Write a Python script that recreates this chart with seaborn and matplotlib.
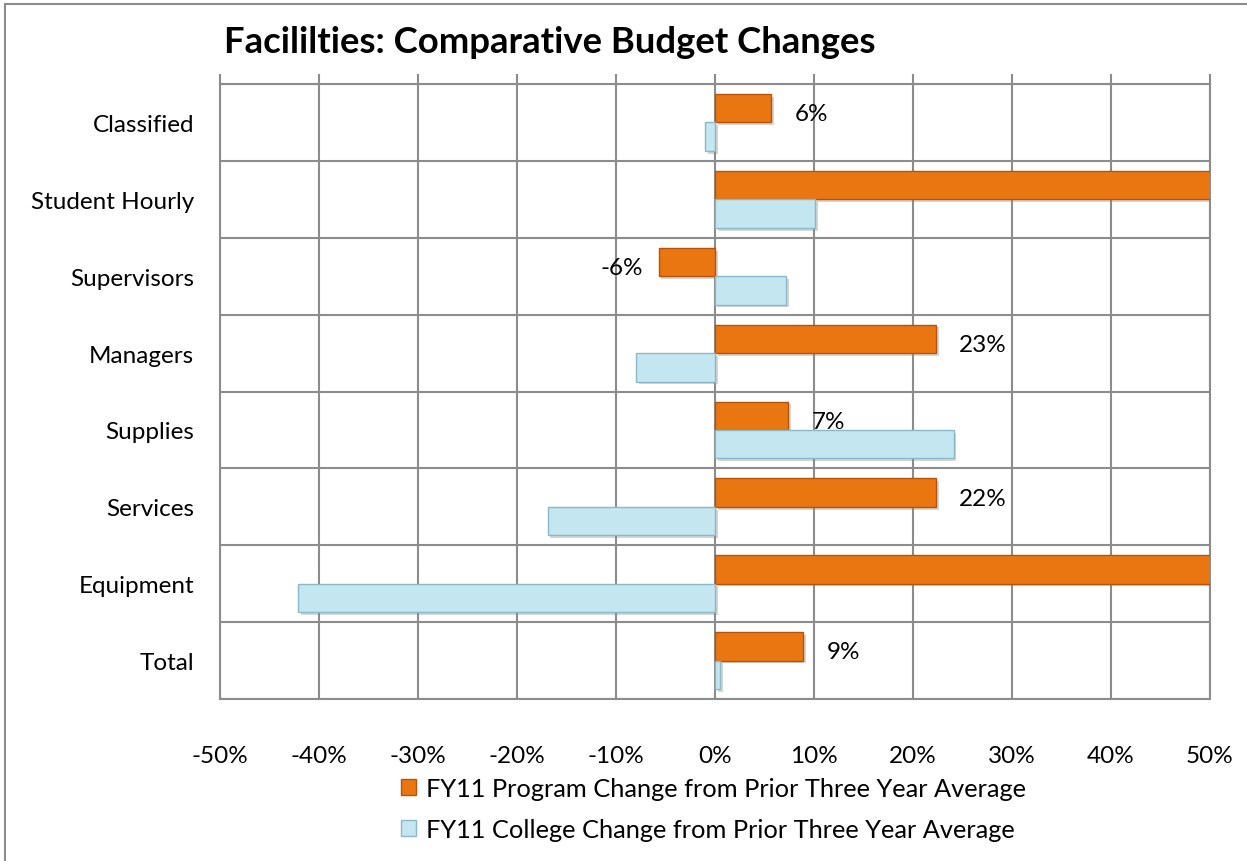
import matplotlib
matplotlib.use("Agg")
import matplotlib.pyplot as plt
import matplotlib.patheffects as pe
from matplotlib.patches import Patch
from matplotlib.lines import Line2D
from matplotlib.ticker import MultipleLocator, FuncFormatter
import seaborn as sns
import pandas as pd

categories = ["Classified", "Student Hourly", "Supervisors", "Managers",
              "Supplies", "Services", "Equipment", "Total"]
program_change = [5.7, 70.0, -5.7, 22.3, 7.4, 22.3, 95.0, 8.9]
college_change = [-1.0, 10.1, 7.2, -8.0, 24.1, -16.9, -42.1, 0.5]
program_labels = ["6%", "", "-6%", "23%", "7%", "22%", "", "9%"]
series_names = ["FY11 Program Change from Prior Three Year Average",
                "FY11 College Change from Prior Three Year Average"]

orange = "#EA7612"
blue = "#C4E6F0"
grid_col = "#8C8C8C"

df = pd.DataFrame({
    "Category": categories * 2,
    "Change": program_change + college_change,
    "Series": [series_names[0]] * len(categories) + [series_names[1]] * len(categories),
})

sns.set_style("white")
plt.rcParams["font.family"] = ["Lato", "DejaVu Sans"]
plt.rcParams["text.color"] = "black"
plt.rcParams["xtick.color"] = "black"
plt.rcParams["ytick.color"] = "black"

fig = plt.figure(figsize=(12.47, 8.62), dpi=100)
ax = fig.add_axes([0.1764, 0.1879, 0.9703 - 0.1764, 0.9014 - 0.1879])

sns.barplot(data=df, y="Category", x="Change", hue="Series", order=categories,
            hue_order=series_names, palette=[orange, blue], width=0.74, saturation=1,
            orient="h", ax=ax, legend=False, zorder=3)

shadow = [pe.SimplePatchShadow(offset=(2, -2), shadow_rgbFace="#888888", alpha=0.35), pe.Normal()]
for i, bar in enumerate(ax.patches):
    if i < len(categories):
        bar.set_edgecolor("#B4540A")
    else:
        bar.set_edgecolor("#8DB7C4")
    bar.set_linewidth(1.0)
    bar.set_path_effects(shadow)

ax.set_xlim(-50, 50)
ax.set_ylim(len(categories) - 0.5, -0.5)
ax.xaxis.set_major_locator(MultipleLocator(10))
ax.xaxis.set_major_formatter(FuncFormatter(lambda v, p: f"{v:.0f}%"))
ax.set_yticks(range(len(categories)))
ax.set_yticks([i - 0.5 for i in range(len(categories) + 1)], minor=True)
ax.grid(axis="x", which="major", color=grid_col, lw=1.5, zorder=0)
ax.grid(axis="y", which="minor", color=grid_col, lw=1.5, zorder=0)
ax.set_axisbelow(True)
for s in ax.spines.values():
    s.set_visible(True)
    s.set_color(grid_col)
    s.set_linewidth(1.5)
ax.tick_params(axis="x", which="major", bottom=False, top=True, length=7,
               width=1.5, color=grid_col, labelsize=17.5, pad=26)
ax.tick_params(axis="x", labeltop=False, labelbottom=True)
ax.tick_params(axis="y", which="both", left=False, labelsize=17.5, pad=15)
ax.set_xlabel("")
ax.set_ylabel("")

# data labels on program bars
for i, (v, lab) in enumerate(zip(program_change, program_labels)):
    if not lab:
        continue
    if v >= 0:
        ax.annotate(lab, (v, i - 0.185), xytext=(17, -4), textcoords="offset points",
                    ha="left", va="center", fontsize=17.5)
    else:
        ax.annotate(lab, (v, i - 0.185), xytext=(-11, -4), textcoords="offset points",
                    ha="right", va="center", fontsize=17.5)

fig.text(0.180, 0.951, "Facililties: Comparative Budget Changes",
         fontsize=26.3, fontweight="bold", ha="left", va="center")

handles = [Patch(facecolor=orange, edgecolor="#B4540A"),
           Patch(facecolor=blue, edgecolor="#8DB7C4")]
fig.legend(handles, series_names, loc="center", bbox_to_anchor=(0.572, 0.060),
           ncol=1, frameon=False, fontsize=18.3, handlelength=0.6, handleheight=0.6,
           handletextpad=0.4, labelspacing=0.7)

# outer chart border
fig.add_artist(Line2D([5 / 1247, 1], [1 - 5 / 862, 1 - 5 / 862], color=grid_col, lw=1.5,
                      transform=fig.transFigure))
fig.add_artist(Line2D([5 / 1247, 5 / 1247], [0, 1 - 5 / 862], color=grid_col, lw=1.5,
                      transform=fig.transFigure))

fig.savefig("out.png", dpi=100)
